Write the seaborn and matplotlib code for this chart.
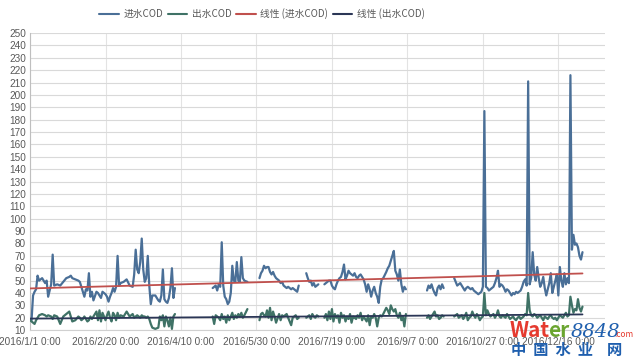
import numpy as np
import pandas as pd
import matplotlib
matplotlib.use("Agg")
import matplotlib.pyplot as plt
from matplotlib.lines import Line2D
import seaborn as sns

# day of year (0 = 2016/1/1); jumps between days are periods with no sample
days = [
    0, 1, 2, 3, 4, 5, 6, 8, 10, 11, 12, 14, 15, 16, 18, 20, 22, 24, 26, 27,
    28, 30, 32, 33, 34, 35, 36, 37, 38, 39, 40, 41, 42, 44, 45, 46, 47, 48, 50, 51,
    52, 53, 54, 55, 56, 57, 58, 59, 60, 62, 64, 66, 68, 69, 70, 71, 72, 73, 74, 75,
    76, 77, 78, 79, 80, 81, 83, 85, 86, 87, 88, 89, 90, 91, 92, 93, 94, 95, 96,
    121, 122, 123, 124, 125, 126, 127, 128, 129, 130, 131, 132, 133, 134, 135, 136,
    137, 138, 139, 140, 141, 142, 144,
    152, 153, 154, 155, 156, 157, 158, 159, 160, 161, 162, 163, 165, 166, 167, 168,
    170, 171, 173, 174, 176, 177, 178,
    183, 184, 185, 186, 187, 188, 189, 190, 191,
    195, 196, 197, 198, 199, 200, 201, 202, 203, 204, 205, 206, 207, 208, 209, 210,
    211, 212, 213, 214, 215, 216, 217, 218, 219, 220, 221, 222, 223, 224, 225, 226,
    227, 228, 229, 230, 231, 232, 233, 234,
    236, 237, 238, 239, 240, 241, 242, 243, 244, 245, 246, 247, 248, 249,
    263, 264, 265, 266, 267, 268, 269, 270, 271, 272, 273, 274,
    281, 282, 283, 284, 285, 286, 287, 288, 289, 290, 291, 292, 293, 294, 295, 296,
    297, 298, 299, 300, 301, 302, 303, 304, 305, 306, 307, 308, 309, 310, 311, 312,
    313, 314, 315, 316, 317, 318, 319, 320, 321, 322, 323, 324, 325, 326, 327, 328,
    329, 330, 331, 332, 333, 334, 335, 336, 337, 338, 339, 340, 341, 342, 343, 344,
    345, 346, 347, 348, 349, 350, 351, 352, 353, 354, 355, 356, 357, 358, 359, 360,
    361, 362, 363, 364, 365, 366,
]

cod_in = [
    19, 18, 38, 41, 43, 54, 50, 52, 48, 50, 37, 47, 71, 46, 47, 46, 49, 52, 53, 54,
    52, 51, 50, 49, 45, 41, 37, 43, 42, 56, 37, 41, 34, 41, 40, 38, 36, 41, 39, 37,
    33, 37, 40, 44, 41, 45, 70, 46, 48, 49, 51, 46, 45, 55, 75, 59, 56, 65, 84, 59,
    49, 52, 70, 46, 31, 38, 38, 34, 33, 38, 59, 35, 33, 32, 36, 44, 60, 36, 44,
    44, 45, 46, 42, 47, 45, 81, 46, 37, 35, 31, 33, 40, 62, 50, 49,
    65, 50, 49, 69, 52, 50, 49,
    52, 56, 58, 62, 60, 61, 61, 57, 55, 57, 54, 52, 50, 48, 49, 46,
    44, 45, 43, 44, 42, 41, 46,
    56, 52, 49, 50, 46, 48, 45, 46, 47,
    47, 48, 49, 50, 50, 46, 44, 43, 47, 50, 52, 53, 57, 63, 51, 54,
    58, 56, 55, 54, 56, 53, 52, 54, 55, 53, 51, 47, 41, 47, 43, 37,
    42, 45, 40, 37, 32, 45, 51, 52,
    57, 60, 62, 66, 70, 74, 58, 55, 50, 59, 47, 41, 45, 43,
    42, 46, 44, 47, 43, 40, 38, 44, 46, 43, 47, 44,
    52, 49, 46, 47, 48, 46, 44, 42, 44, 45, 44, 43, 44, 42, 41, 40,
    39, 40, 41, 45, 187, 45, 44, 42, 43, 44, 45, 48, 52, 58, 45, 47,
    46, 44, 41, 43, 42, 40, 38, 40, 39, 41, 40, 41, 42, 45, 49, 51,
    46, 211, 47, 52, 73, 55, 50, 61, 52, 45, 48, 53, 44, 38, 43, 48,
    56, 40, 45, 50, 55, 38, 61, 50, 45, 56, 47, 52, 48, 216, 75, 87,
    79, 80, 77, 70, 67, 73,
]

cod_out = [
    18, 17, 16, 15, 18, 20, 22, 23, 22, 21, 22, 21, 19, 22, 21, 15, 21, 23, 25, 21,
    17, 18, 21, 20, 18, 19, 21, 19, 17, 18, 21, 19, 21, 25, 18, 26, 17, 24, 18, 22,
    25, 20, 17, 24, 22, 18, 24, 20, 22, 21, 25, 21, 23, 20, 21, 22, 21, 20, 22, 21,
    21, 20, 21, 19, 15, 12, 11, 12, 21, 18, 22, 13, 21, 18, 13, 20, 11, 21, 23,
    21, 15, 22, 21, 20, 18, 23, 19, 21, 16, 22, 18, 21, 24, 19, 22,
    20, 23, 21, 24, 20, 22, 27,
    18, 23, 24, 22, 21, 26, 20, 28, 18, 25, 21, 16, 23, 18, 22, 21,
    23, 20, 14, 20, 22, 19, 20,
    20, 21, 22, 19, 23, 21, 20, 22, 21,
    20, 23, 18, 25, 19, 27, 17, 23, 20, 22, 16, 24, 20, 22, 17, 21,
    19, 23, 16, 21, 20, 19, 22, 20, 24, 18, 21, 19, 17, 22, 14, 21,
    20, 23, 20, 13, 20, 22, 21, 23,
    28, 26, 23, 30, 27, 25, 27, 22, 20, 24, 18, 21, 13, 23,
    20, 22, 19, 21, 23, 25, 21, 22, 19, 20, 22, 21,
    21, 22, 23, 20, 21, 22, 19, 21, 24, 18, 20, 21, 25, 22, 20, 23,
    21, 18, 20, 21, 40, 22, 26, 23, 21, 22, 23, 20, 22, 26, 21, 20,
    22, 21, 20, 23, 21, 19, 20, 21, 19, 18, 20, 21, 19, 20, 21, 23,
    22, 40, 26, 22, 21, 23, 22, 20, 21, 22, 20, 18, 21, 20, 19, 21,
    22, 20, 19, 20, 18, 20, 22, 21, 20, 22, 24, 21, 22, 37, 30, 24,
    27, 26, 35, 28, 25, 29,
]

tick_days = [0, 50, 100, 150, 200, 250, 300, 350]
tick_labels = ["2016/1/1 0:00", "2016/2/20 0:00", "2016/4/10 0:00", "2016/5/30 0:00",
               "2016/7/19 0:00", "2016/9/7 0:00", "2016/10/27 0:00", "2016/12/16 0:00"]
series_names = ["进水COD", "出水COD", "线性 (进水COD)", "线性 (出水COD)"]

assert len(days) == len(cod_in) == len(cod_out)

df = pd.DataFrame({"day": days, "cod_in": cod_in, "cod_out": cod_out})
# break the lines where days are missing
df["seg"] = (df["day"].diff() > 3).cumsum()

c_in = "#4a6f97"
c_out = "#3f7266"
c_trend_in = "#c0504d"
c_trend_out = "#2b3656"
txt = "#595959"

sns.set_theme(style="white")
plt.rcParams["font.family"] = ["Noto Sans CJK SC", "DejaVu Sans"]

fig = plt.figure(figsize=(6.39, 3.6), dpi=100)
ax = fig.add_axes([0.047, 0.083, 0.9, 0.825])

sns.lineplot(data=df, x="day", y="cod_in", units="seg", estimator=None,
             color=c_in, lw=1.6, ax=ax, legend=False, zorder=3)
sns.lineplot(data=df, x="day", y="cod_out", units="seg", estimator=None,
             color=c_out, lw=1.6, ax=ax, legend=False, zorder=3)

# linear trend lines, as the spreadsheet adds them
sns.regplot(data=df, x="day", y="cod_in", scatter=False, ci=None, ax=ax,
            line_kws={"color": c_trend_in, "lw": 1.3, "zorder": 4})
sns.regplot(data=df, x="day", y="cod_out", scatter=False, ci=None, ax=ax,
            line_kws={"color": c_trend_out, "lw": 1.3, "zorder": 4})

ax.set_xlim(0, 381)
ax.set_ylim(10, 250)
ax.set_yticks(np.arange(10, 251, 10))
ax.set_xticks(tick_days)
ax.set_xticklabels(tick_labels)
ax.set_xlabel("")
ax.set_ylabel("")
ax.tick_params(axis="both", length=0, labelsize=7.2, labelcolor=txt, pad=3)
ax.tick_params(axis="x", pad=5)
for lab in ax.get_xticklabels() + ax.get_yticklabels():
    lab.set_family(["Liberation Sans", "DejaVu Sans"])

ax.grid(True, axis="y", color="#d9d9d9", lw=0.8)
ax.grid(True, axis="x", color="#e3e3e3", lw=0.8)
ax.set_axisbelow(True)
for side in ["top", "right"]:
    ax.spines[side].set_visible(False)
ax.spines["left"].set_color("#bfbfbf")
ax.spines["bottom"].set_color("#d0d0d0")
ax.spines["left"].set_linewidth(0.8)
ax.spines["bottom"].set_linewidth(0.8)

handles = [Line2D([], [], color=c, lw=1.5) for c in [c_in, c_out, c_trend_in, c_trend_out]]
leg = fig.legend(handles, series_names, loc="center", bbox_to_anchor=(0.41, 0.962),
                 ncol=4, frameon=False, fontsize=7, handlelength=2.0,
                 columnspacing=0.5, handletextpad=0.45)
for t in leg.get_texts():
    t.set_color(txt)

# site watermark in the lower right corner
wm = dict(fontsize=15, fontweight="bold", va="baseline", zorder=10)
fig.text(0.797, 0.065, "Wat", color="#e53a2f", **wm)
fig.text(0.858, 0.065, "er", color="#6aa530", **wm)
fig.text(0.893, 0.065, "8848", color="#1f5fae", fontsize=14, style="italic",
         family="DejaVu Serif", va="baseline", zorder=10)
fig.text(0.962, 0.065, ".com", color="#e53a2f", fontsize=6, va="baseline", zorder=10)
fig.text(0.80, 0.015, "中  国  水  业    网", color="#1f5fae", fontsize=11,
         fontweight="bold", va="baseline", zorder=10)

fig.savefig("out.png", dpi=100, facecolor="white")
